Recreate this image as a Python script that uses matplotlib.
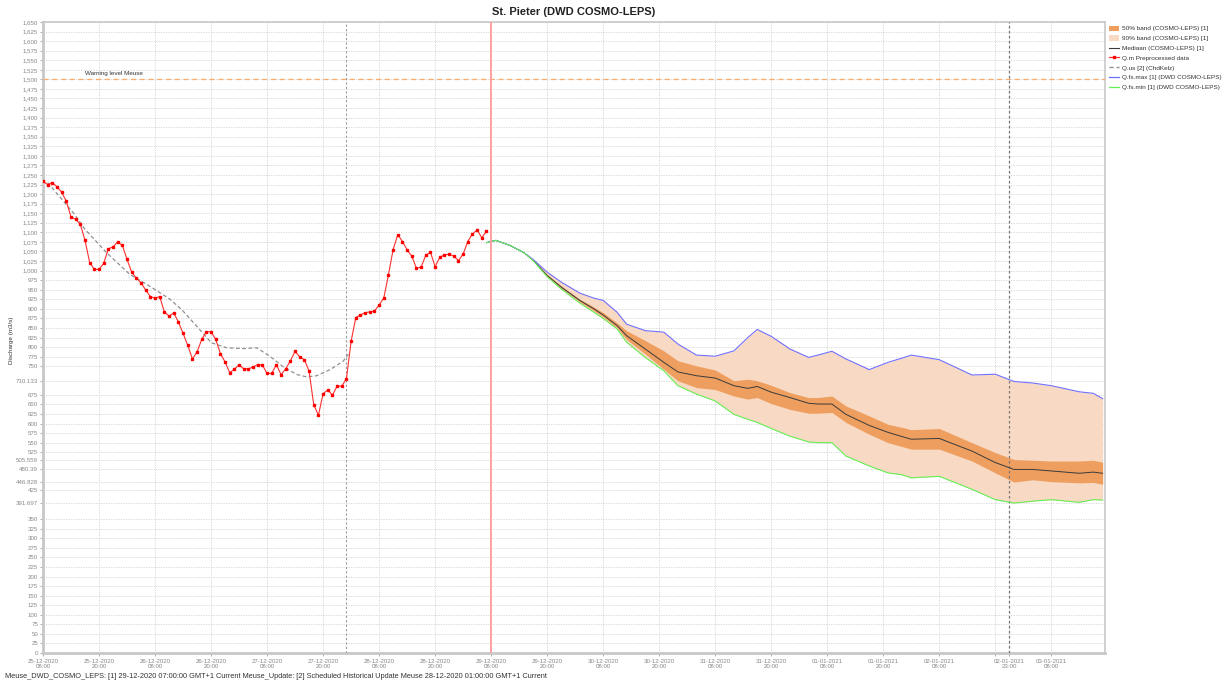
import matplotlib
matplotlib.use('Agg')
import matplotlib.pyplot as plt
import pandas as pd
from matplotlib.lines import Line2D
from matplotlib.patches import Patch

plt.rcParams['font.family'] = ['Liberation Sans', 'DejaVu Sans']

# ---------------- data ----------------
title = "St. Pieter (DWD COSMO-LEPS)"
x_start = '2020-12-25 08:00'
x_end = '2021-01-03 19:30'

# Q.m preprocessed observations, hourly from 25-12-2020 08:00
obs_start = '2020-12-25 08:00'
obs_values = [
    1234, 1225, 1230, 1219, 1205, 1181, 1140, 1134, 1121, 1079,
    1021, 1003, 1003, 1019, 1057, 1062, 1075, 1066, 1029, 996,
    980, 968, 949, 932, 928, 932, 892, 881, 889, 866,
    836, 805, 769, 787, 820, 840, 840, 820, 783, 761,
    733, 742, 754, 743, 743, 748, 754, 753, 731, 731,
    754, 728, 743, 764, 789, 774, 767, 737, 649, 622,
    678, 688, 674, 698, 698, 717, 815, 877, 884, 890,
    892, 894, 910, 928, 989, 1055, 1094, 1076, 1054, 1038,
    1006, 1009, 1040, 1048, 1010, 1035, 1041, 1043, 1038, 1026,
    1043, 1076, 1096, 1106, 1086, 1103]

# Q.us simulation (hours after 25-12-2020 08:00)
sim_hours = [1, 6.5, 9, 13.6, 18.6, 22.9, 27.2, 29.7, 32.9, 36.1, 39.4,
             42.9, 45.8, 48.6, 51.5, 54.4, 56.5, 58.6, 61.5, 64.3, 65.4]
sim_values = [1230, 1151, 1108, 1047, 990, 959, 925, 898, 855, 811, 798,
              796, 798, 776, 748, 728, 722, 725, 741, 763, 781]

# COSMO-LEPS forecast (hours after 25-12-2020 08:00)
fc_hours = [95, 97, 100, 103, 105, 108, 111, 115, 118, 120, 123, 125, 129,
            133, 136, 140, 144, 148, 151, 153, 156, 160, 164, 166, 169,
            172, 177, 181, 184, 186, 192, 199, 204, 208, 212, 216, 222,
            225, 227]
fc_max = [1073, 1079, 1066, 1047, 1029, 996, 970, 941, 928, 922, 891, 860,
          843, 839, 808, 779, 776, 790, 825, 846, 828, 795, 773, 779, 789,
          769, 741, 760, 771, 779, 767, 727, 729, 710, 706, 699, 683, 679,
          665]
fc_p75 = [1073, 1079, 1066, 1047, 1028, 990, 960, 925, 905, 890, 863, 843,
          817, 790, 764, 751, 740, 712, 716, 712, 700, 681, 668, 668, 672,
          646, 620, 598, 590, 584, 587, 550, 524, 506, 504, 502, 502, 504,
          499]
fc_median = [1073, 1079, 1066, 1047, 1027, 987, 957, 922, 900, 884, 856,
             830, 795, 760, 735, 725, 719, 699, 692, 697, 682, 668, 653,
             651, 651, 624, 595, 577, 566, 559, 561, 528, 498, 480, 480,
             476, 470, 473, 470]
fc_p25 = [1073, 1079, 1066, 1047, 1027, 985, 954, 918, 895, 879, 850, 820,
          782, 742, 712, 694, 689, 672, 664, 668, 652, 637, 627, 627, 629,
          603, 572, 550, 540, 533, 533, 502, 471, 447, 453, 448, 445, 446,
          441]
fc_min = [1073, 1079, 1066, 1047, 1026, 984, 952, 915, 891, 875, 847, 813,
          773, 738, 699, 677, 659, 624, 611, 603, 587, 567, 552, 550, 550,
          515, 489, 471, 466, 458, 462, 428, 401, 392, 397, 401, 394, 401,
          400]

warning_level = 1500
warning_label = "Warning level Meuse"

now_time = '2020-12-29 08:00'
hist_update_time = '2020-12-28 01:00'
forecast_mark_time = '2021-01-02 23:00'

y_hidden = [375, 400, 450, 475, 500, 700, 725]
y_special = [710.133, 505.559, 480.39, 446.828, 391.697]
y_special_labels = ['710.133', '505.559', '480.39', '446.828', '391.697']
y_special_orange = [True, True, False, True, True]

legend_labels = ["50% band (COSMO-LEPS) [1]", "90% band (COSMO-LEPS) [1]",
                 "Mediaan (COSMO-LEPS) [1]", "Q.m Preprocessed data",
                 "Q.us [2] (ChdKelz)", "Q.fs.max [1] (DWD COSMO-LEPS)",
                 "Q.fs.min [1] (DWD COSMO-LEPS)"]
footer = ("Meuse_DWD_COSMO_LEPS: [1] 29-12-2020 07:00:00 GMT+1 Current "
          "Meuse_Update: [2] Scheduled Historical Update Meuse "
          "28-12-2020 01:00:00 GMT+1 Current")

# ---------------- derived ----------------
t0 = pd.Timestamp(x_start)
obs_t = pd.date_range(obs_start, periods=len(obs_values), freq='h')
sim_t = [t0 + pd.Timedelta(hours=h) for h in sim_hours]
fc_t = [t0 + pd.Timedelta(hours=h) for h in fc_hours]

c_band50 = '#ee9f5f'
c_band90 = '#f8d9c3'
c_orange_txt = '#f5b27a'
grid_c = '#d2d2d2'

fig = plt.figure(figsize=(12.23, 6.86), dpi=100)
ax = fig.add_axes([43/1223, 1-653/686, (1105-43)/1223, (653-22)/686])

ax.fill_between(fc_t, fc_min, fc_max, color=c_band90, lw=0, zorder=2)
ax.fill_between(fc_t, fc_p25, fc_p75, color=c_band50, lw=0, zorder=3)
ax.plot(fc_t, fc_median, color='#3a3a3a', lw=0.7, zorder=4)
ax.plot(fc_t, fc_max, color='#7070ff', lw=0.8, zorder=5)
ax.plot(fc_t, fc_min, color='#66ee55', lw=0.8, zorder=5)
ax.plot(sim_t, sim_values, color='#909090', lw=0.9, ls=(0, (3, 2)), zorder=4)
ax.plot(obs_t, obs_values, color='#ff3030', lw=0.8, marker='s', ms=2.0,
        mfc='#ff0000', mec='#ff0000', zorder=6)

ax.axhline(warning_level, color='#ffaa66', lw=0.9, ls=(0, (4, 3)), zorder=3)
ax.text(t0 + pd.Timedelta(hours=9), warning_level + 8, warning_label,
        fontsize=4.5, color='#333333', va='bottom', ha='left')

ax.axvline(pd.Timestamp(now_time), color='#ffa0a0', lw=1.4, zorder=7)
ax.axvline(pd.Timestamp(hist_update_time), color='#999999', lw=0.8,
           ls=(0, (2, 2)), zorder=3)
ax.axvline(pd.Timestamp(forecast_mark_time), color='#777777', lw=0.9,
           ls=(0, (2, 2)), zorder=3)

# axes limits
ax.set_xlim(t0, pd.Timestamp(x_end))
ax.set_ylim(0, 1650)

# y ticks
yt = [v for v in range(0, 1651, 25) if v not in y_hidden]
yticks = yt + y_special
ylabels = [f"{v:,}" for v in yt] + y_special_labels
ax.set_yticks(yticks)
ax.set_yticklabels(ylabels)
for lab, v in zip(ax.get_yticklabels(), yticks):
    if v in y_special:
        i = y_special.index(v)
        lab.set_color(c_orange_txt if y_special_orange[i] else '#333333')
    else:
        lab.set_color('#333333')

# x ticks
xt = list(pd.date_range('2020-12-25 08:00', '2021-01-03 08:00', freq='12h'))
xlabels = [d.strftime('%d-%m-%Y\n%H:%M') for d in xt]
special_t = pd.Timestamp(forecast_mark_time)
hide_t = pd.Timestamp('2021-01-02 20:00')
xlabels = ['' if d == hide_t else l for d, l in zip(xt, xlabels)]
xt.append(special_t)
xlabels.append(special_t.strftime('%d-%m-%Y\n%H:%M'))
ax.set_xticks(xt)
ax.set_xticklabels(xlabels)
for lab, d in zip(ax.get_xticklabels(), xt):
    lab.set_color(c_orange_txt if d == special_t else '#333333')

ax.tick_params(axis='both', labelsize=4.4, length=2, width=0.5,
               colors='#888888', pad=1.5)
ax.tick_params(axis='x', pad=2)
ax.grid(True, color=grid_c, lw=0.6, ls=(0, (1.5, 1.5)), zorder=1)
ax.set_axisbelow(True)
for s in ax.spines.values():
    s.set_color('#c8c8c8')
    s.set_linewidth(1.2)
ax.spines['left'].set_linewidth(2)
ax.spines['bottom'].set_linewidth(2)

fig.text(12/1223, 1-340/686, 'Discharge (m3/s)', rotation=90, ha='center',
         va='center', fontsize=4.5, color='#333333')

fig.text(574/1223, 1-12/686, title, ha='center', va='center',
         fontsize=8, fontweight='bold', color='#222222')
fig.text(5/1223, 1-676/686, footer, ha='left', va='center', fontsize=5.3,
         color='#333333')

handles = [Patch(facecolor=c_band50, edgecolor='none'),
           Patch(facecolor=c_band90, edgecolor='none'),
           Line2D([], [], color='#3a3a3a', lw=0.8),
           Line2D([], [], color='#ff3030', lw=0.9, marker='s', ms=2.0,
                  mfc='#ff0000', mec='#ff0000'),
           Line2D([], [], color='#909090', lw=1.0, ls=(0, (3, 2))),
           Line2D([], [], color='#7070ff', lw=0.9),
           Line2D([], [], color='#66ee55', lw=0.9)]
fig.legend(handles, legend_labels, loc='upper left',
           bbox_to_anchor=(1106/1223, 1-23/686), frameon=False,
           fontsize=4.6, handlelength=1.6, handleheight=0.9,
           labelspacing=0.62, borderaxespad=0, handletextpad=0.5,
           labelcolor='#333333')

fig.savefig('out.png', dpi=100)
